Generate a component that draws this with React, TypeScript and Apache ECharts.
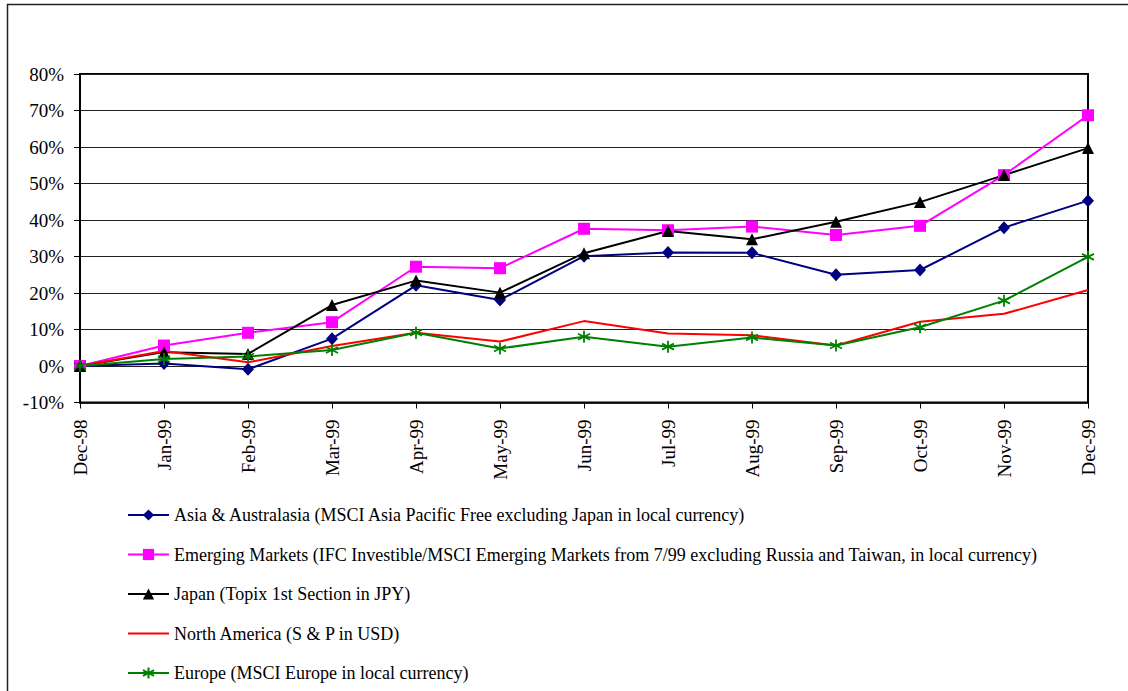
import React, { useEffect, useRef } from "react";
import * as echarts from "echarts";

const months = ["Dec-98", "Jan-99", "Feb-99", "Mar-99", "Apr-99", "May-99", "Jun-99", "Jul-99", "Aug-99", "Sep-99", "Oct-99", "Nov-99", "Dec-99"];

const asia = [0, 0.7, -0.9, 7.5, 22.1, 18.1, 30.1, 31.1, 31.0, 25.0, 26.3, 37.9, 45.3];
const emerging = [0, 5.6, 9.1, 12.0, 27.2, 26.8, 37.6, 37.2, 38.2, 35.9, 38.4, 52.3, 68.7];
const japan = [0, 3.8, 3.3, 16.7, 23.4, 20.1, 30.9, 37.0, 34.7, 39.5, 44.9, 52.3, 59.7];
const northAmerica = [0, 4.1, 1.0, 5.5, 9.1, 6.7, 12.3, 8.9, 8.4, 5.6, 12.1, 14.3, 20.8];
const europe = [0, 1.9, 2.6, 4.4, 9.1, 4.8, 8.0, 5.3, 7.8, 5.6, 10.6, 17.9, 29.9];

const seriesNames = [
  "Asia & Australasia (MSCI Asia Pacific Free excluding Japan in local currency)",
  "Emerging Markets (IFC Investible/MSCI Emerging Markets from 7/99 excluding Russia and Taiwan, in local currency)",
  "Japan (Topix 1st Section in JPY)",
  "North America (S & P in USD)",
  "Europe (MSCI Europe in local currency)",
];

const FONT = "'Liberation Serif', 'Times New Roman', serif";
const ASTERISK = "path://M5,0L5,10M0.67,2.5L9.33,7.5M0.67,7.5L9.33,2.5";

export default function App() {
  const ref = useRef<HTMLDivElement>(null);
  useEffect(() => {
    document.body.style.margin = "0";
    const chart = echarts.init(ref.current!, null, { renderer: "svg" });
    chart.setOption({
      animation: false,
      backgroundColor: "#fff",
      textStyle: { fontFamily: FONT },
      graphic: [
        {
          type: "rect",
          shape: { x: 7.5, y: 4.5, width: 1140, height: 700 },
          style: { fill: "none", stroke: "#222", lineWidth: 1.5 },
          silent: true,
        },
      ],
      grid: {
        left: 80,
        right: 40,
        top: 74,
        bottom: 288.5,
        show: true,
        borderColor: "#000",
        borderWidth: 2,
        backgroundColor: "transparent",
      },
      legend: {
        orient: "vertical",
        left: 127,
        top: 505,
        padding: 0,
        itemWidth: 41,
        itemHeight: 14,
        itemGap: 19.5,
        textStyle: { fontFamily: FONT, fontSize: 18, color: "#000", lineHeight: 20 },
        data: [
          { name: seriesNames[0] },
          { name: seriesNames[1] },
          { name: seriesNames[2] },
          { name: seriesNames[3], icon: "path://M0,0H41V2H0Z" },
          { name: seriesNames[4] },
        ],
      },
      xAxis: {
        type: "category",
        data: months,
        boundaryGap: false,
        axisLine: { onZero: false, lineStyle: { color: "#000", width: 1.5 } },
        axisTick: { show: true, length: 6, inside: false, lineStyle: { color: "#000" } },
        axisLabel: {
          rotate: 90,
          margin: 17,
          fontFamily: FONT,
          fontSize: 19,
          color: "#000",
          interval: 0,
        },
        splitLine: { show: false },
      },
      yAxis: {
        type: "value",
        min: -10,
        max: 80,
        interval: 10,
        axisLine: { show: true, lineStyle: { color: "#000", width: 2 } },
        axisTick: { show: true, length: 6, lineStyle: { color: "#000" } },
        axisLabel: {
          formatter: "{value}%",
          margin: 16,
          fontFamily: FONT,
          fontSize: 19,
          color: "#000",
        },
        splitLine: { show: true, lineStyle: { color: "#222", width: 1 } },
      },
      series: [
        {
          name: seriesNames[0],
          type: "line",
          data: asia,
          symbol: "diamond",
          symbolSize: [12, 13],
          lineStyle: { color: "#000080", width: 2 },
          itemStyle: { color: "#000080" },
        },
        {
          name: seriesNames[1],
          type: "line",
          data: emerging,
          symbol: "rect",
          symbolSize: 12,
          lineStyle: { color: "#FF00FF", width: 2 },
          itemStyle: { color: "#FF00FF" },
        },
        {
          name: seriesNames[2],
          type: "line",
          data: japan,
          symbol: "triangle",
          symbolSize: 12,
          lineStyle: { color: "#000000", width: 2 },
          itemStyle: { color: "#000000" },
        },
        {
          name: seriesNames[3],
          type: "line",
          data: northAmerica,
          symbol: "none",
          lineStyle: { color: "#FF0000", width: 2 },
          itemStyle: { color: "#FF0000" },
        },
        {
          name: seriesNames[4],
          type: "line",
          data: europe,
          symbol: ASTERISK,
          symbolSize: 12,
          lineStyle: { color: "#008000", width: 2 },
          itemStyle: { color: "#008000", borderColor: "#008000", borderWidth: 1.8 },
        },
      ],
    });
    return () => chart.dispose();
  }, []);
  return <div ref={ref} style={{ width: 1128, height: 691 }} />;
}
